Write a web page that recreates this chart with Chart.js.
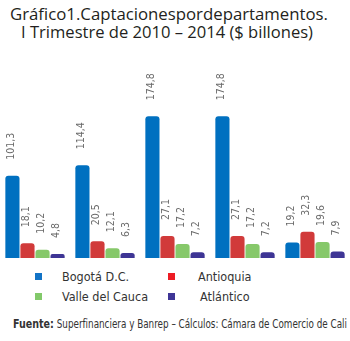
<!DOCTYPE html>
<html lang="es">
<head>
<meta charset="UTF-8" />
<meta name="viewport" content="width=device-width, initial-scale=1.0" />
<title>Captaciones por departamentos</title>
<script src="https://cdn.jsdelivr.net/npm/chart.js"></script>
<style>
  body {
    margin: 0;
    background: #fff;
    width: 350px;
    height: 341px;
    position: relative;
    overflow: hidden;
    font-family: "Liberation Sans Narrow", "DejaVu Sans Condensed", sans-serif;
    color: #333;
  }
  #wrap { position: absolute; left: 0; top: 0; width: 350px; height: 258px; }
  .title {
    position: absolute;
    font-family: "Open Sans", sans-serif;
    font-size: 16px;
    color: #231f20;
    white-space: nowrap;
    transform-origin: left center;
    line-height: 18px;
  }
  #t1 { left: 10px; top: 5px; }
  #t2 { left: 21px; top: 23px; }
  .leg { position: absolute; font-size: 12.5px; white-space: nowrap; line-height: 14px; color: #333; }
  .leg i { position: absolute; width: 7px; height: 7px; }
  #source {
    position: absolute; left: 13px; top: 317px;
    font-size: 12px; white-space: nowrap; color: #333;
    transform-origin: left center; line-height: 14px;
  }
  #source b { font-size: 13px; }
</style>
</head>
<body>
  <div class="title" id="t1">Gráfico1.Captacionespordepartamentos.</div>
  <div class="title" id="t2">I Trimestre de 2010 – 2014 ($ billones)</div>

  <div id="wrap"><canvas id="chart"></canvas></div>
  <div id="legend"></div>

  <div id="source"><b>Fuente:</b> Superfinanciera y Banrep –  Cálculos: Cámara de Comercio de Cali</div>

  <script>
    // Primer trimestre de cada año, billones de pesos
    const years = ['2010', '2011', '2012', '2013', '2014'];
    const bogota = [101.3, 114.4, 174.8, 174.8, 19.2];
    const antioquia = [18.1, 20.5, 27.1, 27.1, 32.3];
    const valle = [10.2, 12.1, 17.2, 17.2, 19.6];
    const atlantico = [4.8, 6.3, 7.2, 7.2, 7.9];

    const seriesNames = ['Bogotá D.C.', 'Antioquia', 'Valle del Cauca', 'Atlántico'];
    const seriesData = [bogota, antioquia, valle, atlantico];
    const barColors = ['#0070c0', '#d13a3a', '#86c86a', '#3e3595'];
    const legendColors = ['#1273c6', '#ed1c24', '#82c96a', '#3f3596'];

    // rotated value text above each bar
    const valueLabels = {
      id: 'valueLabels',
      afterDatasetsDraw(chart) {
        const ctx = chart.ctx;
        ctx.save();
        ctx.font = '10.5px "Liberation Sans Narrow", "DejaVu Sans Condensed", sans-serif';
        ctx.fillStyle = '#6a6a6a';
        ctx.textAlign = 'left';
        ctx.textBaseline = 'middle';
        chart.data.datasets.forEach((ds, i) => {
          chart.getDatasetMeta(i).data.forEach((bar, j) => {
            ctx.save();
            ctx.translate(bar.x - 1, bar.y - 16);
            ctx.rotate(-Math.PI / 2);
            ctx.fillText(ds.data[j].toFixed(1).replace('.', ','), 0, 0);
            ctx.restore();
          });
        });
        ctx.restore();
      }
    };

    new Chart('chart', {
      type: 'bar',
      data: {
        labels: years,
        datasets: seriesNames.map((name, i) => ({
          label: name,
          data: seriesData[i],
          backgroundColor: barColors[i],
          borderRadius: { topLeft: 3, topRight: 3 },
          borderSkipped: 'bottom',
          barPercentage: 0.94,
          categoryPercentage: 0.86
        }))
      },
      options: {
        responsive: true,
        maintainAspectRatio: false,
        animation: false,
        layout: { padding: 0 },
        plugins: { legend: { display: false }, tooltip: { enabled: false } },
        scales: {
          x: { display: false },
          y: { display: false, min: 0, max: 318 }
        }
      },
      plugins: [valueLabels]
    });

    // two-column legend
    const legend = document.getElementById('legend');
    const legPos = [[35, 270], [168, 270], [35, 290], [168, 290]];
    const textOffset = [27, 30, 27, 32];
    seriesNames.forEach((name, i) => {
      const d = document.createElement('div');
      d.className = 'leg';
      d.style.left = legPos[i][0] + 'px';
      d.style.top = legPos[i][1] + 'px';
      d.innerHTML = `<i style="background:${legendColors[i]};left:0;top:3px"></i><span style="margin-left:${textOffset[i]}px">${name}</span>`;
      legend.appendChild(d);
    });

    // squeeze text lines to the widths they occupy in the layout
    function fitWidth(id, w) {
      const el = document.getElementById(id);
      const r = el.getBoundingClientRect().width;
      el.style.transform = `scaleX(${w / r})`;
    }
    fitWidth('t1', 318);
    fitWidth('t2', 292);
    fitWidth('source', 334);
  </script>
</body>
</html>
